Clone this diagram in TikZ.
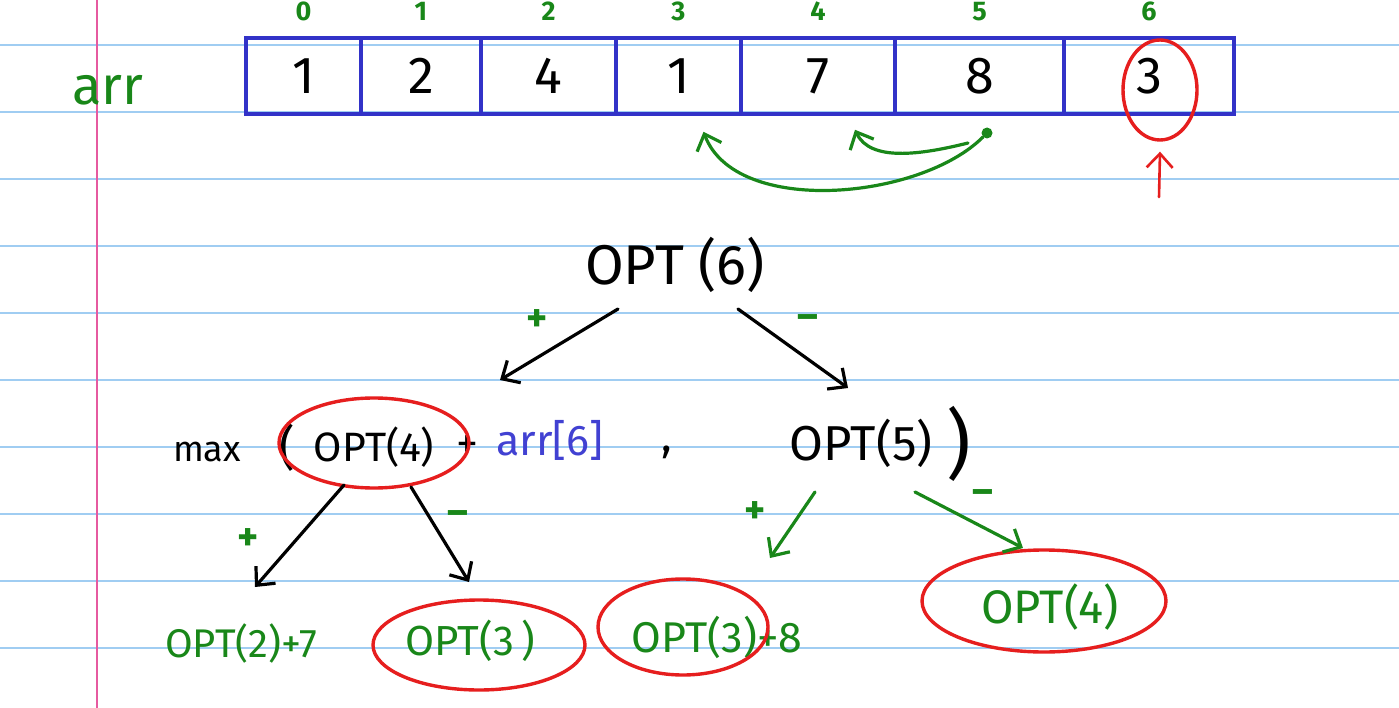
\documentclass[tikz,border=0pt]{standalone}
\usepackage{fontspec}
\setmainfont{Fira Sans}
\usetikzlibrary{arrows.meta, calc, shapes.geometric, positioning}
\definecolor{cRule}{RGB}{160,205,242}
\definecolor{cMargin}{RGB}{230,90,160}
\definecolor{cBox}{RGB}{50,50,200}
\definecolor{cG}{RGB}{25,135,25}
\definecolor{cR}{RGB}{230,30,30}
\definecolor{cB}{RGB}{65,65,210}
\newcommand{\sz}[1]{\fontsize{#1}{#1}\selectfont}

\begin{document}
\begin{tikzpicture}[x=1pt, y=-1pt, >={Straight Barb[length=14pt, width=26pt]},
    rule/.style={cRule, line width=1.8pt},
    cell/.style={draw=cBox, line width=3.6pt, minimum height=76, inner sep=0pt, font=\sz{52}},
    idx/.style={text=cG, font=\sz{27}\bfseries},
    ring/.style={draw=cR, line width=3.4pt, ellipse, inner sep=0pt},
    ink/.style={font=\sz{#1}},
    sign/.style={text=cG, font=\sz{40}\bfseries},
    pen/.style={line width=3.2pt, line cap=round, ->}]

    % --- Paper ---
    \fill[white] (0,0) rectangle (1399,708);
    \useasboundingbox (0,0) rectangle (1399,708);
    \foreach \k in {0,...,9}
        \draw[rule] (0,45+67*\k) -- (1399,45+67*\k);
    \draw[cMargin, line width=1.6pt] (97,0) -- (97,708);

    % --- Array cells with indices ---
    \node[ink=54, text=cG] (arrlbl) at (108,90) {arr};
    \foreach \n/\x/\w/\v in {
        0/303.5/115/1,
        1/421/120/2,
        2/548.5/135/4,
        3/678.5/125/1,
        4/818/154/7,
        5/979.5/169/8,
        6/1149/170/3%
    } {
        \node[cell, minimum width=\w] (c\n) at (\x,76) {\v};
        \node[idx, above=12pt of c\n] (i\n) {\n};
    }

    % current element and jumps back
    \node[ring, minimum width=74, minimum height=100] (hit) at (1160,90) {};
    \coordinate (ptr) at (1159,197);
    \draw[pen, cR, line width=2.6pt] (ptr) -- ($(hit.south)+(0,10)$);
    \node[circle, fill=cG, inner sep=0pt, minimum size=11] (dot) at (987,133) {};
    \draw[pen, cG] (dot) .. controls +(-67,67) and +(32,85) .. ($(c3.south)+(25,16)$);
    \draw[pen, cG] ($(dot)+(-19,10)$) .. controls +(-48,12) and +(15,32) .. ($(c4.south)+(37,14)$);

    % --- Recursion ---
    \node[ink=56] (opt6) at (675,265) {OPT (6)};
    \node[ink=36] (max) at (207,452) {max};
    \node[ink=48] (lpar) at (287,448) {(};
    \node[ink=41] (optfour) at (374,447) {OPT(4)};
    \node[ink=44] (plus) at (467,447) {+};
    \node[ink=43, text=cB] (arrsix) at (550,440) {arr[6]};
    \node[ink=44] (comma) at (667,452) {,};
    \node[ink=49] (optfive) at (861,443) {OPT(5)};
    \node[ink=76] (rpar) at (959,444) {)};
    \node[ring, minimum width=190, minimum height=90] (r4) at (374,443) {};

    \node[ink=40, text=cG] (two7) at (241,643) {OPT(2)+7};
    \node[ink=42, text=cG] (opt3a) at (470,641) {OPT(3\,)};
    \node[ring, minimum width=212, minimum height=90] (r3a) at (479,645) {};
    \node[ink=43, text=cG] (opt3b) at (717,637) {OPT(3)+8};
    \node[ring, minimum width=170, minimum height=96] (r3b) at (683,627) {};
    \node[ink=47, text=cG] (opt4g) at (1050,607) {OPT(4)};
    \node[ring, minimum width=244, minimum height=102] (r4g) at (1044,601) {};

    % branches
    \draw[pen] ($(opt6)+(-57,44)$) -- ($(plus)+(33,-67)$);
    \draw[pen] ($(opt6)+(63,44)$) -- ($(optfive)+(-13,-55)$);
    \draw[pen] ($(r4)+(-30,42)$) -- ($(two7)+(14,-56)$);
    \draw[pen] ($(r4)+(37,44)$) -- ($(r3a)+(-10,-63)$);
    \draw[pen, cG] ($(optfive)+(-46,49)$) -- ($(r3b)+(87,-69)$);
    \draw[pen, cG] ($(optfive)+(54,49)$) -- ($(r4g)+(-21,-53)$);

    \node[sign] (s1) at (537,321) {+};
    \node[sign] (s2) at (808,322) {--};
    \node[sign] (s3) at (248,540) {+};
    \node[sign] (s4) at (458,518) {--};
    \node[sign] (s5) at (755,513) {+};
    \node[sign] (s6) at (983,497) {--};

\end{tikzpicture}
\end{document}
